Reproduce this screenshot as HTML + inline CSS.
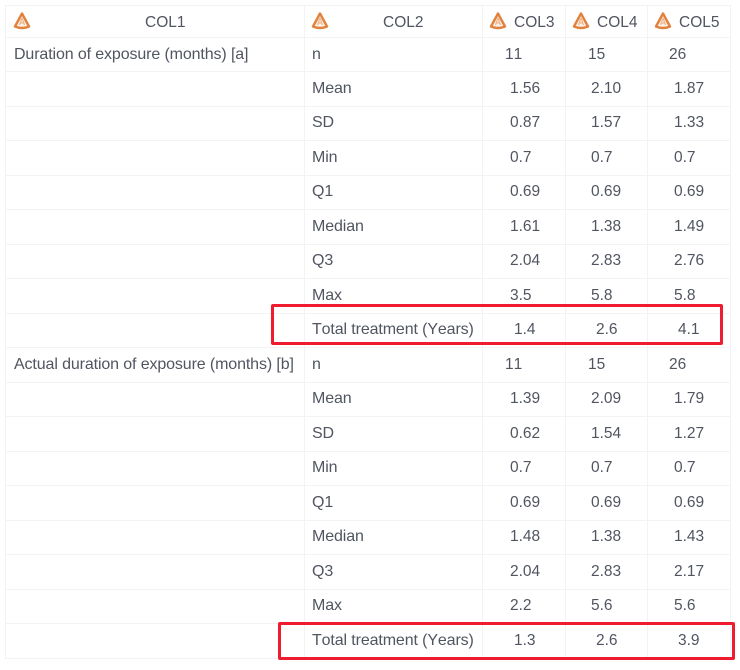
<!DOCTYPE html>
<html lang="en">
<head>
<meta charset="utf-8">
<title>Exposure summary table</title>
<style>
html,body{margin:0;padding:0;background:#fff}
#page{position:relative;width:740px;height:670px;overflow:hidden;background:#fff;font-family:"Liberation Sans",sans-serif;font-size:15.5px;color:#505560;font-kerning:none}
.grid{position:absolute;background:#f3f3f5}
.h{left:5px;width:725px;height:1px}
.vl{top:5px;width:1px;height:653px}
.row{position:absolute;left:0;width:740px;height:34px;line-height:34px}
.row span{position:absolute;top:0;white-space:nowrap;filter:blur(.3px)}
.c1{left:14px;font-size:16px;letter-spacing:-.12px}
.c2{left:312px;font-size:16px;letter-spacing:-.12px}
.n .a{left:505px}.n .b{left:588px}.n .c{left:669px}
.d .a{left:510px}.d .b{left:591px}.d .c{left:674px}
.t .a{left:514px}.t .b{left:596px}.t .c{left:678px}
.hd{position:absolute;top:5px;height:32px;line-height:35px;white-space:nowrap;filter:blur(.3px)}
.ic{position:absolute;top:12px;width:18px;height:18px}
.box{position:absolute;box-sizing:border-box;border:3.5px solid #ee1c2e;border-radius:2px}
</style>
</head>
<body>
<div id="page">
<div class="grid h" style="top:5px"></div>
<div class="grid h" style="top:37px"></div>
<div class="grid h" style="top:71px"></div>
<div class="grid h" style="top:106px"></div>
<div class="grid h" style="top:140px"></div>
<div class="grid h" style="top:175px"></div>
<div class="grid h" style="top:209px"></div>
<div class="grid h" style="top:244px"></div>
<div class="grid h" style="top:278px"></div>
<div class="grid h" style="top:313px"></div>
<div class="grid h" style="top:347px"></div>
<div class="grid h" style="top:382px"></div>
<div class="grid h" style="top:416px"></div>
<div class="grid h" style="top:451px"></div>
<div class="grid h" style="top:485px"></div>
<div class="grid h" style="top:520px"></div>
<div class="grid h" style="top:554px"></div>
<div class="grid h" style="top:589px"></div>
<div class="grid h" style="top:623px"></div>
<div class="grid h" style="top:658px"></div>
<div class="grid vl" style="left:5px"></div>
<div class="grid vl" style="left:304px"></div>
<div class="grid vl" style="left:482px"></div>
<div class="grid vl" style="left:565px"></div>
<div class="grid vl" style="left:647px"></div>
<div class="grid vl" style="left:730px"></div>

<svg class="ic" style="left:12.500px" viewBox="0 0 18 18"><path d="M9 1.500 L16 14.500 Q9 17.500 2 14.500 Z" fill="#fdf1e8" stroke="#e0823d" stroke-width="2.400" stroke-linejoin="round"/><path d="M9 6 L6.500 13 M9 6 L11.500 13 M7 11 H11" fill="none" stroke="#eeb68c" stroke-width="1.200"/></svg>
<div class="hd" style="left:145px">COL1</div>
<svg class="ic" style="left:311px" viewBox="0 0 18 18"><path d="M9 1.500 L16 14.500 Q9 17.500 2 14.500 Z" fill="#fdf1e8" stroke="#e0823d" stroke-width="2.400" stroke-linejoin="round"/><path d="M9 6 L6.500 13 M9 6 L11.500 13 M7 11 H11" fill="none" stroke="#eeb68c" stroke-width="1.200"/></svg>
<div class="hd" style="left:383px">COL2</div>
<svg class="ic" style="left:489px" viewBox="0 0 18 18"><path d="M9 1.500 L16 14.500 Q9 17.500 2 14.500 Z" fill="#fdf1e8" stroke="#e0823d" stroke-width="2.400" stroke-linejoin="round"/><path d="M9 6 L6.500 13 M9 6 L11.500 13 M7 11 H11" fill="none" stroke="#eeb68c" stroke-width="1.200"/></svg>
<div class="hd" style="left:514px">COL3</div>
<svg class="ic" style="left:572px" viewBox="0 0 18 18"><path d="M9 1.500 L16 14.500 Q9 17.500 2 14.500 Z" fill="#fdf1e8" stroke="#e0823d" stroke-width="2.400" stroke-linejoin="round"/><path d="M9 6 L6.500 13 M9 6 L11.500 13 M7 11 H11" fill="none" stroke="#eeb68c" stroke-width="1.200"/></svg>
<div class="hd" style="left:597px">COL4</div>
<svg class="ic" style="left:654px" viewBox="0 0 18 18"><path d="M9 1.500 L16 14.500 Q9 17.500 2 14.500 Z" fill="#fdf1e8" stroke="#e0823d" stroke-width="2.400" stroke-linejoin="round"/><path d="M9 6 L6.500 13 M9 6 L11.500 13 M7 11 H11" fill="none" stroke="#eeb68c" stroke-width="1.200"/></svg>
<div class="hd" style="left:679px">COL5</div>

<div class="row n" style="top:38px"><span class="c1">Duration of exposure (months) [a]</span><span class="c2">n</span><span class="a">11</span><span class="b">15</span><span class="c">26</span></div>
<div class="row d" style="top:71.500px"><span class="c2">Mean</span><span class="a">1.56</span><span class="b">2.10</span><span class="c">1.87</span></div>
<div class="row d" style="top:106px"><span class="c2">SD</span><span class="a">0.87</span><span class="b">1.57</span><span class="c">1.33</span></div>
<div class="row d" style="top:140.500px"><span class="c2">Min</span><span class="a">0.7</span><span class="b">0.7</span><span class="c">0.7</span></div>
<div class="row d" style="top:175px"><span class="c2">Q1</span><span class="a">0.69</span><span class="b">0.69</span><span class="c">0.69</span></div>
<div class="row d" style="top:209.500px"><span class="c2">Median</span><span class="a">1.61</span><span class="b">1.38</span><span class="c">1.49</span></div>
<div class="row d" style="top:244px"><span class="c2">Q3</span><span class="a">2.04</span><span class="b">2.83</span><span class="c">2.76</span></div>
<div class="row d" style="top:278.500px"><span class="c2">Max</span><span class="a">3.5</span><span class="b">5.8</span><span class="c">5.8</span></div>
<div class="row t" style="top:313px"><span class="c2">Total treatment (Years)</span><span class="a">1.4</span><span class="b">2.6</span><span class="c">4.1</span></div>
<div class="row n" style="top:347.500px"><span class="c1">Actual duration of exposure (months) [b]</span><span class="c2">n</span><span class="a">11</span><span class="b">15</span><span class="c">26</span></div>
<div class="row d" style="top:382px"><span class="c2">Mean</span><span class="a">1.39</span><span class="b">2.09</span><span class="c">1.79</span></div>
<div class="row d" style="top:416.500px"><span class="c2">SD</span><span class="a">0.62</span><span class="b">1.54</span><span class="c">1.27</span></div>
<div class="row d" style="top:451px"><span class="c2">Min</span><span class="a">0.7</span><span class="b">0.7</span><span class="c">0.7</span></div>
<div class="row d" style="top:485.500px"><span class="c2">Q1</span><span class="a">0.69</span><span class="b">0.69</span><span class="c">0.69</span></div>
<div class="row d" style="top:520px"><span class="c2">Median</span><span class="a">1.48</span><span class="b">1.38</span><span class="c">1.43</span></div>
<div class="row d" style="top:554.500px"><span class="c2">Q3</span><span class="a">2.04</span><span class="b">2.83</span><span class="c">2.17</span></div>
<div class="row d" style="top:589px"><span class="c2">Max</span><span class="a">2.2</span><span class="b">5.6</span><span class="c">5.6</span></div>
<div class="row t" style="top:623.500px"><span class="c2">Total treatment (Years)</span><span class="a">1.3</span><span class="b">2.6</span><span class="c">3.9</span></div>

<div class="box" style="left:271px;top:304px;width:452px;height:41px"></div>
<div class="box" style="left:278px;top:622px;width:457px;height:38px"></div>
</div>
</body>
</html>
